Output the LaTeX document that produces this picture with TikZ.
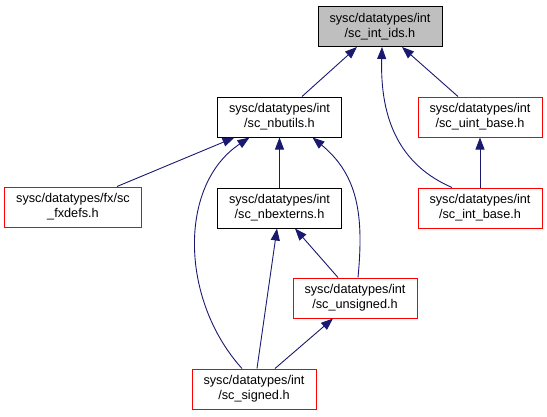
\documentclass[tikz,border=0pt]{standalone}
\usepackage{fontspec}
\setmainfont{Liberation Sans}
\usetikzlibrary{arrows.meta}
\definecolor{edgeblue}{HTML}{191970}
\definecolor{boxred}{HTML}{FF0000}
\definecolor{boxgray}{HTML}{BFBFBF}
\tikzset{
  box/.style={draw=black, line width=1pt, minimum width=124pt, minimum height=40pt,
    inner sep=0pt, align=center, font=\fontsize{12.7}{14.7}\selectfont, fill=white},
  redbox/.style={box, draw=boxred},
  rootbox/.style={box, fill=boxgray},
  edge/.style={draw=edgeblue, line width=0.9pt, -{Triangle[length=12pt,width=9pt]}}
}
\begin{document}
\begin{tikzpicture}[x=1pt,y=-1pt]
\useasboundingbox (0,0) rectangle (547,416);
\node[rootbox] (ids) at (380,26.5) {sysc/datatypes/int\\/sc\_int\_ids.h};
\node[box] (nbutils) at (279.5,117) {sysc/datatypes/int\\/sc\_nbutils.h};
\node[redbox] (uint) at (480,117) {sysc/datatypes/int\\/sc\_uint\_base.h};
\node[redbox, minimum width=137pt] (fx) at (73,207) {sysc/datatypes/fx/sc\\\_fxdefs.h};
\node[box] (nbext) at (279.5,208) {sysc/datatypes/int\\/sc\_nbexterns.h};
\node[redbox] (intb) at (480,208) {sysc/datatypes/int\\/sc\_int\_base.h};
\node[redbox] (uns) at (355,298) {sysc/datatypes/int\\/sc\_unsigned.h};
\node[redbox] (sig) at (254,389) {sysc/datatypes/int\\/sc\_signed.h};

\draw[edge] ([xshift=22.5pt]nbutils.north) -- ([xshift=-23pt]ids.south);
\draw[edge] ([xshift=-22pt]uint.north) -- ([xshift=22pt]ids.south);
\draw[edge] ([xshift=-28pt]intb.north) .. controls (400,165) and (380,120) .. ([xshift=2pt]ids.south);
\draw[edge] (intb.north) -- (uint.south);
\draw[edge] ([xshift=44pt]fx.north) -- ([xshift=-45pt]nbutils.south);
\draw[edge] ([xshift=-12pt]sig.north) .. controls (180,300) and (178,185) .. ([xshift=-30pt]nbutils.south);
\draw[edge] (nbext.north) -- (nbutils.south);
\draw[edge] ([xshift=3pt]uns.north) .. controls (364,215) and (358,175) .. ([xshift=33pt]nbutils.south);
\draw[edge] ([xshift=3pt]sig.north) -- ([xshift=-2.5pt]nbext.south);
\draw[edge] ([xshift=-17pt]uns.north) -- ([xshift=15.5pt]nbext.south);
\draw[edge] ([xshift=21pt]sig.north) -- ([xshift=-22pt]uns.south);
\end{tikzpicture}
\end{document}
